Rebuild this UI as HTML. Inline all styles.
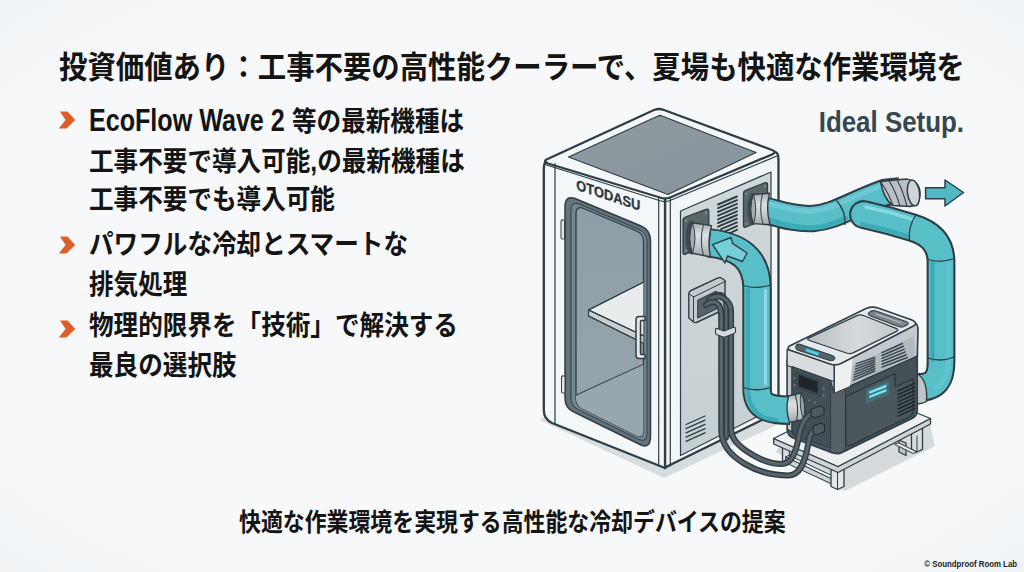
<!DOCTYPE html>
<html lang="ja">
<head>
<meta charset="utf-8">
<title>投資価値あり</title>
<style>
html,body{margin:0;padding:0;}
html{background:#f5f7f9;}
body{width:1024px;height:572px;overflow:hidden;background:#f5f7f9 radial-gradient(ellipse 75% 75% at 50% 50%, #f6f8fa 70%, #eff2f4 100%);position:relative;
  font-family:"Liberation Sans","Noto Sans CJK JP",sans-serif;color:#141414;}
.t{position:absolute;white-space:nowrap;font-weight:700;line-height:1;transform-origin:0 50%;}
#title{left:59px;top:52.5px;font-size:28.4px;transform:scaleY(1.1);}
.b{font-size:24.6px;left:89px;transform:scaleY(1.12);}
.la{display:inline-block;font-size:27.9px;line-height:1;transform:scaleX(0.9);transform-origin:0 50%;margin-right:-21.4px;}
.ar{position:absolute;left:58px;width:18px;height:18px;}
#cap{left:239px;top:512px;font-size:21.9px;transform:scaleY(1.15);}
#ideal{left:818.7px;top:110.2px;font-size:25.9px;color:#37474f;transform:scaleY(1.168);}
#copy{right:6.5px;top:558.5px;font-size:9.8px;font-weight:700;color:#222;transform-origin:100% 50%;transform:scaleX(0.8);}
#ill{position:absolute;left:0;top:0;}
</style>
</head>
<body>
<svg id="ill" width="1024" height="572" viewBox="0 0 1024 572">
<defs>
  <linearGradient id="gRight" x1="0" y1="0" x2="0" y2="1"><stop offset="0" stop-color="#cfd7d9"/><stop offset="1" stop-color="#c6d0d2"/></linearGradient>
  <linearGradient id="gGlass" x1="0" y1="0" x2="0" y2="1"><stop offset="0" stop-color="#8d9ea6"/><stop offset="0.6" stop-color="#94a3aa"/><stop offset="1" stop-color="#97a6ac"/></linearGradient>
  <linearGradient id="gTop" x1="0" y1="0" x2="1" y2="1"><stop offset="0" stop-color="#8f9ca2"/><stop offset="1" stop-color="#86939a"/></linearGradient>
  <linearGradient id="gTealV" x1="0" y1="0" x2="1" y2="0"><stop offset="0" stop-color="#3fa7b6"/><stop offset="0.45" stop-color="#5cc3cf"/><stop offset="1" stop-color="#48b2c0"/></linearGradient>
  <linearGradient id="gTray" x1="0" y1="0" x2="1" y2="0"><stop offset="0" stop-color="#b7bec1"/><stop offset="0.55" stop-color="#d6dadc"/><stop offset="1" stop-color="#c3c9cb"/></linearGradient>
  <linearGradient id="gCol" x1="0" y1="0" x2="0" y2="1"><stop offset="0" stop-color="#a5adb1"/><stop offset="0.35" stop-color="#dee1e3"/><stop offset="0.7" stop-color="#c2c8cb"/><stop offset="1" stop-color="#9ea6aa"/></linearGradient>
  <clipPath id="cGlass"><path d="M576 214 Q576 205.500 583.500 208.500 L636.500 231 Q643.500 234 643.500 242 L643.500 430 Q643.500 439 636 435.500 L582 408.500 Q576 405.500 576 398 Z"/></clipPath>
</defs>
<g stroke-linejoin="round" stroke-linecap="round">
<!-- ground shadows -->
<path d="M540 420 L664 478 L800 414 L778 404 L665 458 L548 414 Z" fill="#d7dcde"/>
<path d="M838 469 L930 424 L935 446 L846 490.500 L836 489.500 L776 452 L780 444 Z" fill="#d5dadc"/>

<!-- BOOTH -->
<g id="booth" stroke="#2f3e46" stroke-width="2.300">
  <!-- right face -->
  <path d="M665 198 L773 152 Q778.500 151 778.500 159 L778.500 412 L668 466 L665 468 Z" fill="#f1f5f6"/>
  <path d="M680.500 211 L771 172 L771 409.500 L680.500 455.500 Z" fill="url(#gRight)" stroke-width="1.2"/>
  <!-- left/front face -->
  <path d="M543.8 168 Q543.8 160 550 161 L665 198 L665 468 L552 423 Q543.8 419 543.8 410 Z" fill="#f3f7f8"/>
  <!-- top face -->
  <path d="M546.500 159.500 L654 110 Q659 108 664 110 L772 150 Q777 152 772 154.500 L670 197.500 Q665 199.500 660 197.500 L548 163.500 Q543 161.500 546.500 159.500 Z" fill="#f4f7f8"/>
  <path d="M568.5 157 L658 116 Q660 115 662 116 L756 152.500 L668 194.500 Z" fill="url(#gTop)" stroke-width="1.3"/>
  <path d="M545 164.500 L660 200.800 Q665 202.500 670 200.500 L777 156" fill="none" stroke-width="1.200"/>
  <!-- corner column -->
  <path d="M658.700 198 L658.700 465.500 M670.300 197.500 L670.300 466 M555 163.500 L555 424" fill="none" stroke-width="1.2"/>
  <!-- door frame -->
  <path d="M565 207 Q565 195 575 198.500 L641 226 Q650.500 230 650.500 241 L650.500 436 Q650.500 449 641 445 L573 411.500 Q565 407.500 565 398 Z" fill="#62737b" stroke-width="1.5"/>
  <path d="M571 210 Q571 201 579 204 L639 229.500 Q647 233 647 241.500 L647 433 Q647 443 639 439.500 L578 409.500 Q571 406 571 398 Z" fill="#74868d" stroke-width="1"/>
  <!-- glass -->
  <path d="M576 214 Q576 205.500 583.500 208.500 L636.500 231 Q643.500 234 643.500 242 L643.500 430 Q643.500 439 636 435.500 L582 408.500 Q576 405.500 576 398 Z" fill="url(#gGlass)" stroke-width="1.3"/>
  <g clip-path="url(#cGlass)" stroke-width="1.1">
    <!-- floor -->
    <path d="M574 396 L644 364 L644 445 L574 410 Z" fill="#98a7ad" stroke="#3b4a52"/>
    <!-- shelf -->
    <path d="M588.500 310 L644 282 L644 336 Z" fill="#e9ecec"/>
    <path d="M588.500 310 L588.500 316 L644 343.500 L644 336 Z" fill="#c9ced0"/>
    <path d="M644 282 L588.500 310 L588.500 316 L644 343.500 M588.500 310 L644 336" fill="none"/>
  </g>
  <!-- handle -->
  <path d="M645 316.500 L639 316.500 Q636 316.500 636 320 L636 355 Q636 358.500 639 358.500 L645 358.500 L645 354.500 L641.500 354.500 Q640.500 354.500 640.500 353 L640.500 322 Q640.500 320.500 641.500 320.500 L645 320.500 Z" fill="#e3e6e7" stroke-width="1.500"/>
  <!-- hinges -->
  <rect x="561" y="220" width="3.500" height="19" rx="1" fill="#e6e9ea" stroke-width="1"/>
  <rect x="561.500" y="376" width="3.500" height="17" rx="1" fill="#e6e9ea" stroke-width="1"/>
</g>
<text transform="translate(576.300 189.800) skewY(18.200)" font-family="'Liberation Sans',sans-serif" font-weight="700" font-size="14.600" textLength="64" lengthAdjust="spacingAndGlyphs" fill="#2a373e" stroke="#2a373e" stroke-width="0.300">OTODASU</text>
<!-- right face details -->
<g stroke="#2f3e46" stroke-width="1.1" fill="none">
  <!-- big vent -->
  <path d="M718 204.500 L737 196.500 M718 208.200 L737 200.200 M718 211.900 L737 203.900 M718 215.600 L737 207.600 M718 219.300 L737 211.300 M718 223 L737 215 M718 226.700 L737 218.700 M721 229.200 L737 222.400 M725 231.300 L737 226.100 M730 233 L737 229.800" stroke-width="1.900"/>
  <!-- small vent -->
  <path d="M686 424.500 L705 416 M686 428.700 L705 420.200 M686 432.900 L705 424.400 M686 437.100 L705 428.600 M686 441.300 L705 432.800" stroke-width="1.3"/>
</g>
<!-- port plates -->
<g stroke="#2f3e46" stroke-width="1.3">
  <path d="M743.500 193.500 Q743.500 191 746 190 L765 182.800 Q767.500 182 767.500 184.500 L767.500 216 Q767.500 218.500 765 219.500 L746 227 Q743.500 228 743.500 225.500 Z" fill="#5b666b"/>
  <path d="M683 220.500 Q683 218 685.500 217 L706 209.300 Q708.800 208.300 708.800 211 L708.800 242 Q708.800 244.500 706 245.600 L685.500 254.200 Q683 255.200 683 252.500 Z" fill="#5b666b"/>
</g>
<g fill="#939da1">
  <circle cx="746.300" cy="193.800" r="1"/><circle cx="764.800" cy="186.500" r="1"/><circle cx="746.300" cy="223.800" r="1"/><circle cx="764.800" cy="216.300" r="1"/>
  <circle cx="686" cy="220.500" r="1"/><circle cx="706" cy="212.800" r="1"/><circle cx="686" cy="250.700" r="1"/><circle cx="706" cy="242.300" r="1"/>
</g>
<!-- socket plate -->
<g stroke="#2f3e46" stroke-width="1.400">
  <path d="M688.800 294 Q688.800 291.500 691 290.500 L718 277.800 Q720 277 721.500 278 L725 280.500 L725 307.500 Q725 309 723 310 L696.500 322.500 Q695 323 693.500 322 L688.800 318 Z" fill="#c4c9cc"/>
  <path d="M693.500 297 L725 281.500 M693.500 297 L693.500 322 M693.500 297 L688.800 293.500" fill="none" stroke-width="1"/>
  <path d="M698 300 L716.500 291 L716.500 309 L698 318 Z" fill="#56626a" stroke-width="1"/>
</g>
<!-- UPPER HOSE SYSTEM -->
<g fill="none" stroke-linecap="butt">
  <!-- main + upper branch -->
  <path d="M766 210.500 C780 214 795 219.500 813 218.500 C835 217 850 205 885 192.500 L900 191" stroke="#2f3e46" stroke-width="27.400"/>
  <path d="M766.800 210.700 C780 214 795 219.500 813 218.500 C835 217 850 205 885 192.500 L900 191" stroke="#58bec8" stroke-width="23.400"/>
  <path d="M768 203.500 C782 207 795 212 813 211 C833 209.500 848 198 880 186.500" stroke="#73cbd6" stroke-width="5" stroke-linecap="round" opacity="0.850"/>
  <path d="M768 219.500 C782 224 797 228.500 815 227.500 C828 226.500 838 222 846 218" stroke="#35a7b2" stroke-width="5" stroke-linecap="round" opacity="0.800"/>
  <!-- joint on main -->
  <path d="M836.500 200.500 Q846 211 845 225" stroke="#2f3e46" stroke-width="1.300"/>
</g>
<!-- upper collar -->
<g stroke="#2f3e46" stroke-width="1.400">
  <ellipse cx="752.800" cy="209" rx="5.500" ry="16" fill="#3f4a4f" stroke="none"/>
  <path d="M753.500 194.500 L769.500 193.200 Q765.500 209 770 224.800 L753.500 223.600 Q748 209 753.500 194.500 Z" fill="url(#gCol)"/>
  <path d="M753.500 194.500 Q748 209 753.500 223.600 Q758 209 753.500 194.500 Z" fill="#a7aeb2" stroke-width="1"/>
  <path d="M762.500 193.800 Q758.500 209 763 224.200" fill="none" stroke-width="1"/>
</g>
<!-- gray cap -->
<g stroke="#2f3e46" stroke-width="1.500">
  <path d="M880.500 181.500 L906 179 Q920 181 920 193 Q920 205 910 206.500 L893 205.500 Q884 200 880.500 181.500 Z" fill="#b9bfc2"/>
  <path d="M880.500 181.500 Q888 192 893 205.500 M889 180.500 Q896 192 900 206 M897 179.800 Q903.500 192 907 206.500" fill="none" stroke-width="1.100"/>
  <ellipse cx="913.500" cy="193" rx="6" ry="13" fill="#cfd4d6" transform="rotate(-8 913.500 193)"/>
</g>
<!-- lower branch + right vertical + elbow -->
<g fill="none" stroke-linecap="round">
  <path d="M863.500 214.500 L889 220.700 L912 227.500 C930 233 941 243 941 262 L941 362 C941 378 936 387.500 918 387.500" stroke="#2f3e46" stroke-width="28.800"/>
  <path d="M863.500 214.500 L889 220.700 L912 227.500 C930 233 941 243 941 262 L941 362 C941 378 936 387.500 918 387.500" stroke="#58bec8" stroke-width="24.600"/>
  <path d="M866 207 L890 212.500 L913 219.500" stroke="#8adbe4" stroke-width="3.500" opacity="0.900"/>
  <path d="M948.500 262 L948.500 362 C948.500 374 944 382 936 387" stroke="#62c4d0" stroke-width="5" opacity="0.900"/>
  <path d="M932.500 262 L932.500 360" stroke="#35a7b2" stroke-width="4" opacity="0.900"/>
  <path d="M862 224 L888 230.500 L909 236.500" stroke="#35a7b2" stroke-width="4" opacity="0.800"/>
  <!-- joints -->
  <path d="M915.500 215.500 Q908 227 909.500 240" stroke="#2f3e46" stroke-width="1.300"/>
  <path d="M928 259.500 Q941 263.500 954 258.500" stroke="#2f3e46" stroke-width="1.300"/>
  <path d="M928 358 Q941 362.500 954 357" stroke="#2f3e46" stroke-width="1.300"/>
</g>
<!-- right collar at cooler -->
<path d="M917 373.500 Q928 380 926.500 401.500 Q922 404 916.500 404 Z" fill="#c0c5c8" stroke="#2f3e46" stroke-width="1.400"/>
<!-- STAND -->
<g stroke="#2f3e46" stroke-width="1.300">
  <!-- back/inner legs -->
  <path d="M899 440 L899 452 L906 455.500 L906 443 Z" fill="#bfc5c8"/>
  <!-- right leg -->
  <path d="M911.500 433 L911.500 449 L917 452 L922.500 449.300 L922.500 428 Z" fill="#d9dddf"/>
  <path d="M917 436 L917 452" fill="none" stroke-width="1"/>
  <!-- right lower rail -->
  <path d="M895 444.500 L913 453.500 L917 452 L899 443 Z" fill="#e4e7e8" stroke-width="1"/>
  <!-- left leg -->
  <path d="M782.500 444 L782.500 461 L786 463 L789.500 461.300 L789.500 447 Z" fill="#d9dddf"/>
  <!-- lower rail left-front -->
  <path d="M786 457 L832 479 L832 484 L786 463 Z" fill="#cdd2d4" stroke-width="1"/>
  <path d="M789.500 455.500 L835 477 L832 479 L786 457 Z" fill="#e9ecec" stroke-width="1"/>
  <!-- front leg -->
  <path d="M831 470 L831 486.500 L837.500 489.500 L844 486.500 L844 467 Z" fill="#e3e6e7"/>
  <path d="M837.500 472 L837.500 489.500" fill="none" stroke-width="1"/>
  <!-- top slab -->
  <path d="M773.700 438.500 L838 466.500 L930.500 418.500 L930.500 424 L838 472.500 L773.700 444 Z" fill="#cfd4d6"/>
  <path d="M773.700 438.500 L866 392 L930.500 418.500 L838 466.500 Z" fill="#eceeef"/>
</g>

<!-- COOLER -->
<g stroke="#2f3e46" stroke-width="1.600">
  <!-- dark body long face -->
  <path d="M834 388 L834 453 Q838 454.500 842 452.500 L912 418.500 Q917.300 416 917.300 410 L917.300 352 Z" fill="#445157"/>
  <!-- front-left face dark -->
  <path d="M787.200 360 L787.200 429 Q787.200 435.500 793 438 L830 452 Q834 453.500 834 453 L834 380 Z" fill="#4d5a60"/>
  <path d="M830.500 380.500 L845.500 391 L845.500 450 Q839 454.500 834 453 L830.500 452 Z" fill="#566166" stroke-width="1"/>
  <!-- long face inner panel -->
  <path d="M846 396.500 L895 373.500 L895 387 L913 379 L913 411 Q913 415 909 417 L851 445 Q846 447 846 442 Z" fill="#4a585e" stroke="#252e33" stroke-width="1"/>
  <!-- silver band long face -->
  <path d="M834 364 L916 323.500 Q918.500 326 918 332 L917.300 356 L834 393 Z" fill="#c3c9cc"/>
  <path d="M852 366 L914 336 L914.500 356.500 L850 385 Z" fill="#b1b9bc" stroke="none"/>
  <!-- sheen -->
  <path d="M835 365 L853 356 L850 386 L835 392.500 Z" fill="#eef0f0" stroke="none"/>
  <!-- silver band front-left face -->
  <path d="M787.200 349.500 L834 364 L834 393 L830.500 380.500 L792 366.500 L792 432 L787.200 429 Z" fill="#c3c8cb" stroke-width="1.200"/>
  <path d="M787.200 349.500 L834 364 L834 381.500 L787.200 365.500 Z" fill="#d9dddf" stroke-width="1.100"/>
  <!-- top face -->
  <path d="M789.500 350 Q786 348 790.500 345.500 L866 308.500 Q872 306 878 308 L912 320 Q918.500 323 913.500 326 L841 363.500 Q836 366 830 364 Z" fill="#e6e9ea"/>
  <!-- tray -->
  <path d="M809 337.900 L857 315.600 Q860 314.200 863.500 315.500 L896 328.400 Q899.500 329.800 896.500 331.300 L853.500 352.600 Q850 354.300 846.500 353 L809.500 340.500 Q806 339.300 809 337.900 Z" fill="url(#gTray)" stroke-width="1.300"/>
  <!-- handle slot -->
  <path d="M870.500 311.500 Q873 310 876 311 L906 321.500 Q910 323.300 907 325 L904 326.500 Q901.500 327.500 898.500 326.500 L870.500 316 Q867 314.500 869 312.500 Z" fill="#7a858a" stroke-width="1.100"/>
  <path d="M876 314 L901 322.800" stroke="#a9b1b5" stroke-width="1.600" fill="none"/>
  <!-- control strip -->
  <path d="M796 346 Q797 343.500 800 344.300 L832 355.500 Q836 357 834.500 359.300 Q833 361.500 829 360.300 L798 350.200 Q795 349 796 346 Z" fill="#56626a" stroke-width="1.100"/>
  <path d="M806.500 348.300 L819.500 352.700 L818.300 355.900 L805.300 351.300 Z" fill="#4fd3e0" stroke="#2a8996" stroke-width="0.800"/>
  <!-- front-left dark panel -->
  <path d="M792 366.500 L830.500 380.500 L830.500 448 L795 435.500 Q792 434 792 431 Z" fill="#434f55" stroke-width="1.100"/>
  <!-- screen -->
  <path d="M798.500 374.500 L818 381.500 L818 393.500 L798.500 386.500 Z" fill="#1e262a" stroke-width="0.800"/>
  <path d="M796 372 L820.500 380.800 L820.500 396 L796 387.500 Z" fill="none" stroke-width="0.800"/>
</g>
<!-- silver vents -->
<g stroke="#39464d" stroke-width="1.500" fill="none">
  <path d="M856.4 363.6 L874.7 357.5 M855.9 366.4 L874.7 359.8 M855.4 369.1 L874.7 362.0 M854.9 371.9 L874.7 364.2 M854.4 374.6 L874.7 366.5 M853.9 377.4 L874.7 368.8 M853.4 380.1 L874.7 371.0"/>
  <path d="M882.0 352.6 L902.3 343.5 M882.0 355.5 L903.3 346.3 M882.0 358.4 L904.3 349.1 M882.0 361.3 L905.3 351.9 M882.0 364.2 L906.3 354.7 M882.0 367.1 L907.3 357.5"/>
  <!-- dark side vent -->
  <path d="M898 391 L914.500 383.500 M898 394.600 L914.500 387.100 M898 398.200 L914.500 390.700 M898 401.800 L914.500 394.300 M898 405.400 L914.500 397.900 M898 409 L914.500 401.500 M898 412.600 L914.500 405.100 M898 416.200 L914.500 408.700" stroke="#1d2529" stroke-width="1.400"/>
</g>
<!-- cyan light -->
<g>
  <path d="M866 389.500 L889 380.500 L889 394.500 L866 403.500 Z" fill="#35c6d6" opacity="0.220"/>
  <path d="M869.200 391.300 L886.400 384.600 L886.400 387.200 L869.200 393.900 Z" fill="#74e8f0"/>
  <path d="M869.200 395.700 L886.400 389 L886.400 391.600 L869.200 398.300 Z" fill="#74e8f0"/>
</g>
<!-- panel buttons -->
<g fill="#707b80">
  <circle cx="794.500" cy="378" r="1.100"/><circle cx="794.500" cy="385" r="1.100"/><circle cx="823.500" cy="388.500" r="1.100"/><circle cx="823.500" cy="395.500" r="1.100"/>
  <circle cx="803" cy="398" r="1.100"/><circle cx="809" cy="400.300" r="1.100"/><circle cx="815" cy="402.600" r="1.100"/>
</g>
<!-- LOWER HOSE -->
<g fill="none" stroke-linecap="butt">
  <!-- hose -->
  <path d="M709 243 C738 246 757 258 757 288 L757 388 C757 404 764 410.200 790 410.200" stroke="#2f3e46" stroke-width="29.400"/>
  <path d="M709.800 243 C738 246 757 258 757 288 L757 388 C757 404 764 410.200 790 410.200" stroke="#58bec8" stroke-width="25.400"/>
  <path d="M765.500 290 L765.500 384" stroke="#93dce3" stroke-width="3" stroke-linecap="round" opacity="0.900"/>
  <path d="M748 290 L748 388 C748 407 757 419 776 420" stroke="#35a7b2" stroke-width="4.500" stroke-linecap="round" opacity="0.850"/>
  <path d="M743.500 285.500 Q756 289.500 770.500 285" stroke="#2f3e46" stroke-width="1.300"/>
  <path d="M743.500 387.500 Q756 392 770.500 387.500" stroke="#2f3e46" stroke-width="1.300"/>
</g>
<!-- collar at cooler -->
<g stroke="#2f3e46" stroke-width="1.400">
  <path d="M788.500 396 L801 393 Q807 405 803.500 419.500 L789.500 422.500 Q785 409 788.500 396 Z" fill="url(#gCol)"/>
  <path d="M795 394.500 Q799.500 407 796.500 421" fill="none" stroke-width="1.100"/>
  <path d="M801 393 Q807 405 803.500 419.500 Q798.500 406 801 393 Z" fill="#9aa2a6" stroke-width="1"/>
</g>
<!-- lower port collar -->
<g stroke="#2f3e46" stroke-width="1.400">
  <ellipse cx="691.500" cy="237.500" rx="6" ry="17" fill="#3f4a4f" stroke="none"/>
  <path d="M692.500 222.800 L711.500 225.600 Q707 241 710.500 257 L692.500 253.200 Q687 238 692.500 222.800 Z" fill="url(#gCol)"/>
  <path d="M692.500 222.800 Q687 238 692.500 253.200 Q697.500 238 692.500 222.800 Z" fill="#a7aeb2" stroke-width="1"/>
  <path d="M703.500 224.500 Q699 240 703.500 255.500" fill="none" stroke-width="1"/>
</g>
<!-- arrow on hose -->
<path d="M712.500 244.700 L731 237.500 L732.500 243.400 L747 253 L742.500 261.500 L727.500 256 L725 263 Z" fill="#74cfd8" stroke="#2f3e46" stroke-width="1.400" stroke-linejoin="round"/>
<!-- CABLES from socket down (behind hose? no, in front of wall) -->
<g fill="none">
  <path d="M712 297 Q720 292 724 297 Q726.200 301 726.200 312 L726.200 438" stroke="#2f3e46" stroke-width="5.200"/>
  <path d="M712 297 Q720 292 724 297 Q726.200 301 726.200 312 L726.200 438" stroke="#59656b" stroke-width="2.600"/>
  <path d="M709 300 Q716 294 723 298 Q731 302 731 312 L731 428 C731 438 737 444 745 450 C755 457 768 464 781 464 C792 464 796 452 799 436 C801 425 806 416 813 413" stroke="#2f3e46" stroke-width="6.200"/>
  <path d="M709 300 Q716 294 723 298 Q731 302 731 312 L731 428 C731 438 737 444 745 450 C755 457 768 464 781 464 C792 464 796 452 799 436 C801 425 806 416 813 413" stroke="#59656b" stroke-width="3.200"/>
  <path d="M706 305 Q712 300 716.500 303 Q721.300 306 721.300 316 L721.300 430 C721.500 445 730 455 745 464 C757 471 772 475.500 788 475.500 C800 475.500 805 462 808 445 C809.500 436 811 431 816 429.500" stroke="#2f3e46" stroke-width="6.200"/>
  <path d="M706 305 Q712 300 716.500 303 Q721.300 306 721.300 316 L721.300 430 C721.500 445 730 455 745 464 C757 471 772 475.500 788 475.500 C800 475.500 805 462 808 445 C809.500 436 811 431 816 429.500" stroke="#59656b" stroke-width="3.200"/>
</g>
<!-- cable clip -->
<path d="M715.500 329.500 Q715.500 328 717 328.500 L724 331 L733 327.500 Q735.500 326.800 735.500 328.500 L735.500 331.500 Q735.500 333 734 333.500 L725 337 Q724 337.300 723 337 L716.500 334.500 Q715.500 334 715.500 333 Z" fill="#d6dadc" stroke="#2f3e46" stroke-width="1.100"/>

<!-- plugs -->
<g stroke="#20282c" stroke-width="1">
  <path d="M811.500 409 L820 406 L824 408 L824 414.500 L815 418 L811.500 416 Z" fill="#4f5b61"/>
  <path d="M813.500 426 L821 423 L824.500 425 L824.500 431.500 L816.500 435 L813.500 433 Z" fill="#4f5b61"/>
</g>
<path d="M925.600 187.800 L945 187.800 L945 180 L963.500 192.500 L945 206 L945 198.700 L925.600 198.700 Z" fill="#52b9c4" stroke="#2f3e46" stroke-width="1.500" stroke-linejoin="round"/>

</g>

</svg>
<div class="t" id="title">投資価値あり：工事不要の高性能クーラーで、夏場も快適な作業環境を</div>
<div class="t b" style="top:107.4px"><span class="la">EcoFlow Wave 2</span> 等の最新機種は</div>
<div class="t b" style="top:149.7px">工事不要で導入可能,の最新機種は</div>
<div class="t b" style="top:188.2px">工事不要でも導入可能</div>
<div class="t b" style="top:232.5px">パワフルな冷却とスマートな</div>
<div class="t b" style="top:272.7px">排気処理</div>
<div class="t b" style="top:313.6px">物理的限界を「技術」で解決する</div>
<div class="t b" style="top:353.7px">最良の選択肢</div>
<svg class="ar" style="top:110.6px" viewBox="0 0 18 18"><path d="M2 0.5 L9.5 0.5 L17.2 9 L8.5 17.5 L0.8 17.5 L7.6 9 Z" fill="#df5d27"/></svg>
<svg class="ar" style="top:236.2px" viewBox="0 0 18 18"><path d="M2 0.5 L9.5 0.5 L17.2 9 L8.5 17.5 L0.8 17.5 L7.6 9 Z" fill="#df5d27"/></svg>
<svg class="ar" style="top:319.7px" viewBox="0 0 18 18"><path d="M2 0.5 L9.5 0.5 L17.2 9 L8.5 17.5 L0.8 17.5 L7.6 9 Z" fill="#df5d27"/></svg>
<div class="t" id="ideal">Ideal Setup.</div>
<div class="t" id="cap">快適な作業環境を実現する高性能な冷却デバイスの提案</div>
<div class="t" id="copy">© Soundproof Room Lab</div>
</body>
</html>
